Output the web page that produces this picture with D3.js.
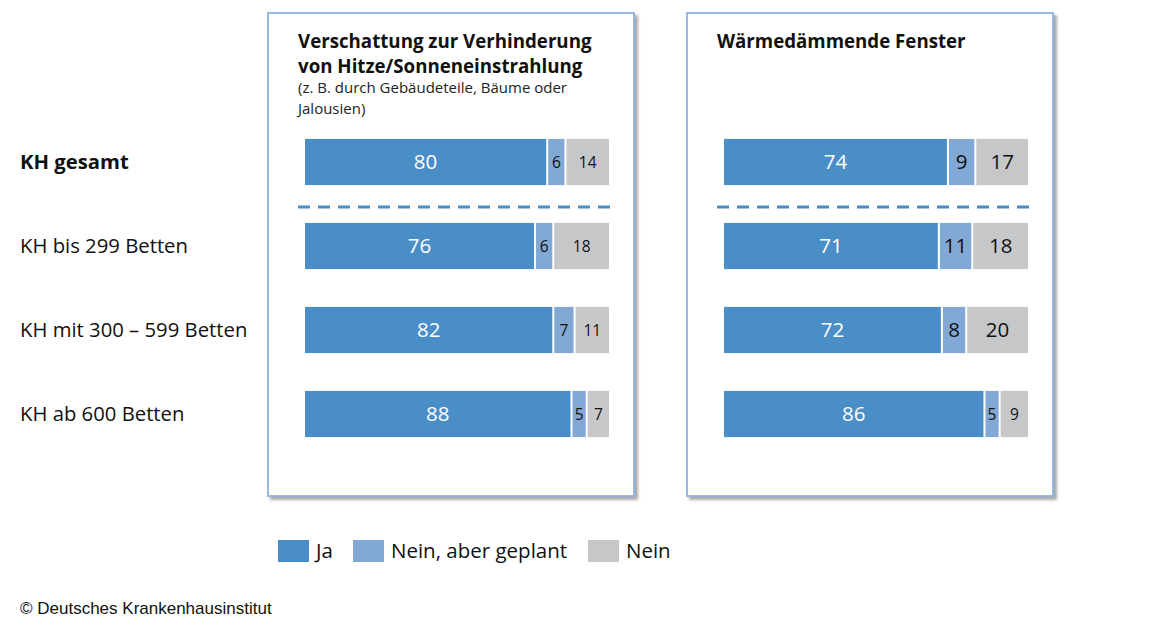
<!DOCTYPE html>
<html>
<head>
<meta charset="utf-8">
<script src="https://cdn.jsdelivr.net/npm/d3@7"></script>
<style>
  body { margin: 0; background: #fff; }
  text { font-family: "Open Sans", "Noto Sans", sans-serif; }
</style>
</head>
<body>
<div id="chart"></div>
<script>
var svgWidth = 1151;
var svgHeight = 633;

// data
var categories = ["KH gesamt", "KH bis 299 Betten", "KH mit 300 – 599 Betten", "KH ab 600 Betten"];
var seriesNames = ["Ja", "Nein, aber geplant", "Nein"];
var colors = ["#4a8ec8", "#82a9d6", "#c6c7c9"];

var shadingJa = [80, 76, 82, 88];
var shadingPlanned = [6, 6, 7, 5];
var shadingNein = [14, 18, 11, 7];

var windowsJa = [74, 71, 72, 86];
var windowsPlanned = [9, 11, 8, 5];
var windowsNein = [17, 18, 20, 9];

var panels = [
  { title: ["Verschattung zur Verhinderung", "von Hitze/Sonneneinstrahlung"],
    sub: ["(z. B. durch Gebäudeteile, Bäume oder", "Jalousien)"],
    values: [shadingJa, shadingPlanned, shadingNein], left: 268 },
  { title: ["Wärmedämmende Fenster"], sub: [],
    values: [windowsJa, windowsPlanned, windowsNein], left: 687 }
];

var svg = d3.select("#chart")
  .append("svg")
  .attr("width", svgWidth)
  .attr("height", svgHeight);

var defs = svg.append("defs");
var filter = defs.append("filter").attr("id", "shadow")
  .attr("x", "-5%").attr("y", "-5%").attr("width", "115%").attr("height", "115%");
filter.append("feDropShadow")
  .attr("dx", 3).attr("dy", 3).attr("stdDeviation", 1.5)
  .attr("flood-color", "#000").attr("flood-opacity", 0.35);

var panelWidth = 366;
var panelTop = 13;
var panelHeight = 483;

// shared y scale for rows
var y = d3.scaleBand()
  .domain(categories)
  .range([120, 456])
  .paddingInner(0.45)
  .paddingOuter(0.225);

// row labels
svg.append("g").selectAll("text")
  .data(categories)
  .enter()
  .append("text")
  .attr("x", 20)
  .attr("y", d => y(d) + y.bandwidth() / 2)
  .attr("dy", "0.35em")
  .attr("font-size", 20.3)
  .attr("font-weight", (d, i) => i === 0 ? "bold" : "normal")
  .attr("fill", "#111")
  .text(d => d);

panels.forEach(function(p) {
  var g = svg.append("g").attr("transform", `translate(${p.left}, 0)`);

  g.append("rect")
    .attr("x", 0)
    .attr("y", panelTop)
    .attr("width", panelWidth)
    .attr("height", panelHeight)
    .attr("fill", "#fff")
    .attr("stroke", "#8fb3dd")
    .attr("stroke-width", 1.8)
    .attr("filter", "url(#shadow)");

  p.title.forEach(function(t, i) {
    g.append("text")
      .attr("x", 30)
      .attr("y", 48 + i * 25)
      .attr("font-size", 18.7)
      .attr("font-weight", "bold")
      .attr("fill", "#111")
      .text(t);
  });
  p.sub.forEach(function(t, i) {
    g.append("text")
      .attr("x", 30)
      .attr("y", 93 + i * 21)
      .attr("font-size", 15)
      .attr("fill", "#222")
      .text(t);
  });

  var x = d3.scaleLinear().domain([0, 100]).range([37, 341]);

  // dashed separator
  var sepY = (y(categories[0]) + y.bandwidth() + y(categories[1])) / 2 + 3;
  g.append("line")
    .attr("x1", 30).attr("x2", 343)
    .attr("y1", sepY).attr("y2", sepY)
    .attr("stroke", "#4a8ec8")
    .attr("stroke-width", 3)
    .attr("stroke-dasharray", "12,8");

  categories.forEach(function(cat, ci) {
    var vals = p.values.map(s => s[ci]);
    var small = vals[1] < 8;
    var start = 0;
    vals.forEach(function(v, si) {
      var x0 = x(start), x1 = x(start + v);
      g.append("rect")
        .attr("x", x0)
        .attr("y", y(cat))
        .attr("width", x1 - x0 - (si < 2 ? 2 : 0))
        .attr("height", y.bandwidth())
        .attr("fill", colors[si]);
      g.append("text")
        .attr("x", (x0 + x1 - (si < 2 ? 2 : 0)) / 2)
        .attr("y", y(cat) + y.bandwidth() / 2)
        .attr("dy", "0.36em")
        .attr("text-anchor", "middle")
        .attr("font-size", si > 0 && small ? 15.5 : 20.5)
        .attr("fill", si === 0 ? "#fff" : "#111")
        .text(v);
      start += v;
    });
  });
});

// legend
var legendX = [278, 353, 588];
var legend = svg.append("g");
seriesNames.forEach(function(name, i) {
  legend.append("rect")
    .attr("x", legendX[i])
    .attr("y", 540)
    .attr("width", 31)
    .attr("height", 22)
    .attr("fill", colors[i]);
  legend.append("text")
    .attr("x", legendX[i] + 38)
    .attr("y", 551)
    .attr("dy", "0.36em")
    .attr("font-size", 20.5)
    .attr("fill", "#111")
    .text(name);
});

svg.append("text")
  .attr("x", 20)
  .attr("y", 614)
  .style("font-family", "'Liberation Sans', Arial, sans-serif")
  .attr("font-size", 17)
  .attr("fill", "#111")
  .text("© Deutsches Krankenhausinstitut");
</script>
</body>
</html>
